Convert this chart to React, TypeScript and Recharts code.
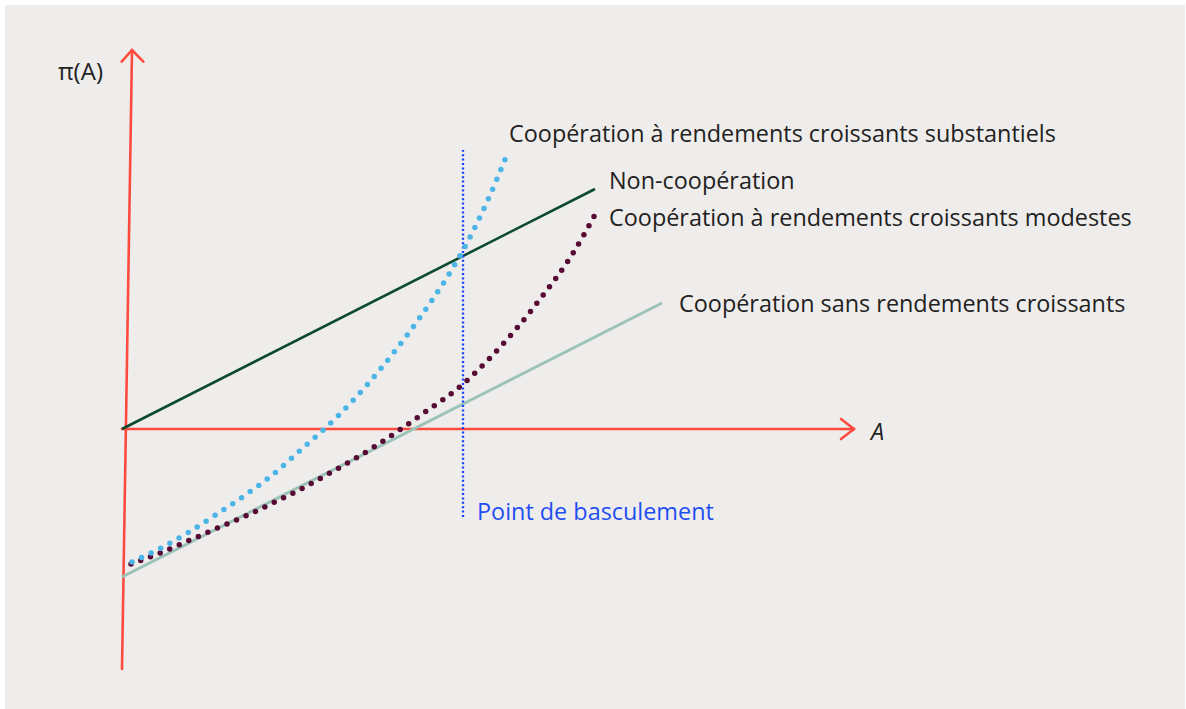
import React from "react";
import { ComposedChart, Line, XAxis, YAxis, ReferenceLine } from "recharts";

// Conceptual coordinates: A (horizontal) and π(A) (vertical)
const nonCooperation = [
  { a: 0, p: 0 },
  { a: 4.73, p: 2.4 },
];
const coopNoReturns = [
  { a: 0, p: -1.48 },
  { a: 5.4, p: 1.26 },
];
const coopSubstantial = [
  { a: 0.1, p: -1.33 },
  { a: 0.39, p: -1.19 },
  { a: 0.67, p: -1.03 },
  { a: 0.95, p: -0.85 },
  { a: 1.22, p: -0.67 },
  { a: 1.49, p: -0.47 },
  { a: 1.82, p: -0.18 },
  { a: 2.15, p: 0.12 },
  { a: 2.45, p: 0.44 },
  { a: 2.73, p: 0.78 },
  { a: 2.99, p: 1.13 },
  { a: 3.24, p: 1.5 },
  { a: 3.45, p: 1.86 },
  { a: 3.65, p: 2.27 },
  { a: 3.84, p: 2.72 },
];
const coopModest = [
  { a: 0.09, p: -1.35 },
  { a: 0.38, p: -1.24 },
  { a: 0.68, p: -1.11 },
  { a: 0.98, p: -0.98 },
  { a: 1.28, p: -0.85 },
  { a: 1.57, p: -0.71 },
  { a: 1.77, p: -0.61 },
  { a: 2.15, p: -0.4 },
  { a: 2.52, p: -0.18 },
  { a: 2.79, p: 0 },
  { a: 3.06, p: 0.19 },
  { a: 3.34, p: 0.39 },
  { a: 3.66, p: 0.69 },
  { a: 3.95, p: 1.01 },
  { a: 4.22, p: 1.35 },
  { a: 4.48, p: 1.71 },
  { a: 4.74, p: 2.16 },
];
const tippingPoint = [
  { a: 3.41, p: -0.88 },
  { a: 3.41, p: 2.79 },
];
// axis segments: [start, end]
const xAxisSegments = [
  [{ x: 0, y: 0 }, { x: 7.32, y: 0 }],
  [{ x: 7.19, y: 0.1 }, { x: 7.32, y: 0 }],
  [{ x: 7.19, y: -0.1 }, { x: 7.32, y: 0 }],
];
const yAxisSegments = [
  [{ x: 0, y: -2.4 }, { x: 0.1, y: 3.79 }],
  [{ x: -0.003, y: 3.673 }, { x: 0.1, y: 3.79 }],
  [{ x: 0.213, y: 3.673 }, { x: 0.1, y: 3.79 }],
];

const labels = {
  substantial: "Coopération à rendements croissants substantiels",
  nonCoop: "Non-coopération",
  modest: "Coopération à rendements croissants modestes",
  noReturns: "Coopération sans rendements croissants",
  tipping: "Point de basculement",
  yTitle: "π(A)",
  xTitle: "A",
};

const W = 1186;
const H = 709;
const FONT = "'Open Sans', 'DejaVu Sans', sans-serif";
const RED = "#ff4a40";

export default function App() {
  return (
    <div style={{ position: "absolute", left: 0, top: 0, width: W, height: H, background: "#ffffff" }}>
      <div style={{ position: "absolute", left: 5, top: 5, width: 1180, height: 704, background: "#efedeb" }} />
      <div style={{ position: "absolute", left: 0, top: 0 }}>
        <ComposedChart width={W} height={H} margin={{ top: 0, right: 0, bottom: 0, left: 0 }}>
          <XAxis type="number" dataKey="a" domain={[-1.22, 10.64]} hide allowDataOverflow />
          <YAxis type="number" dataKey="p" domain={[-2.8, 4.29]} hide allowDataOverflow />
          {[...yAxisSegments, ...xAxisSegments].map((seg, i) => (
            <ReferenceLine key={i} segment={seg} stroke={RED} strokeWidth={2.6} strokeLinecap="round" ifOverflow="visible" />
          ))}
          <Line data={coopNoReturns} dataKey="p" type="linear" stroke="#9cc3b8" strokeWidth={3} dot={false} activeDot={false} isAnimationActive={false} />
          <Line data={nonCooperation} dataKey="p" type="linear" stroke="#0b4a2e" strokeWidth={2.6} dot={false} activeDot={false} isAnimationActive={false} />
          <Line data={tippingPoint} dataKey="p" type="linear" stroke="#1540ff" strokeWidth={2.3} strokeDasharray="2 2.4" dot={false} activeDot={false} isAnimationActive={false} />
          <Line data={coopModest} dataKey="p" type="monotone" stroke="#560a34" strokeWidth={5.5} strokeDasharray="0 10.4" strokeLinecap="round" dot={false} activeDot={false} isAnimationActive={false} />
          <Line data={coopSubstantial} dataKey="p" type="monotone" stroke="#4cb5e8" strokeWidth={5.5} strokeDasharray="0 10.6" strokeLinecap="round" dot={false} activeDot={false} isAnimationActive={false} />
        </ComposedChart>
      </div>
      <svg width={W} height={H} style={{ position: "absolute", left: 0, top: 0, pointerEvents: "none" }}>
        <g fontFamily={FONT} fontSize={23.4} fill="#222222" dominantBaseline="central">
          <text x={509} y={133}>{labels.substantial}</text>
          <text x={609} y={180}>{labels.nonCoop}</text>
          <text x={609} y={217}>{labels.modest}</text>
          <text x={679} y={303}>{labels.noReturns}</text>
          <text x={477} y={511} fill="#1f4ef2">{labels.tipping}</text>
          <text x={58} y={70} fontSize={24}>{labels.yTitle}</text>
          <text x={871} y={431} fontStyle="italic">{labels.xTitle}</text>
        </g>
      </svg>
    </div>
  );
}
